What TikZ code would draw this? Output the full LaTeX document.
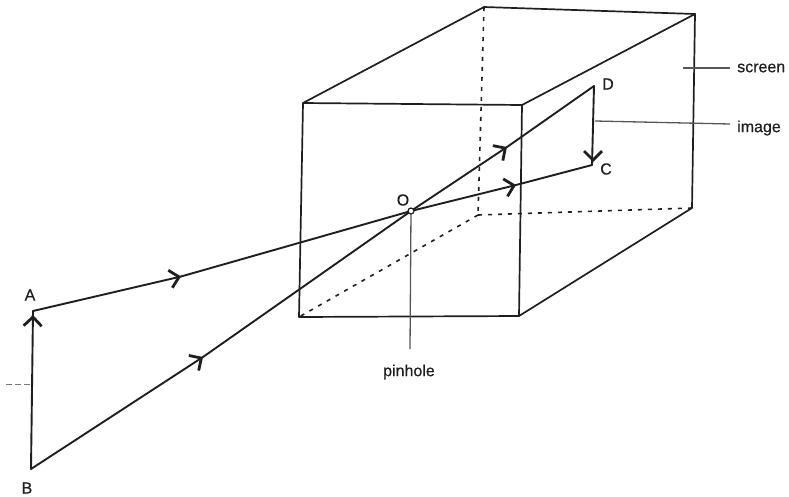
\documentclass[tikz,border=0pt]{standalone}
\usepackage{fontspec}
\setmainfont[FakeBold=0.5]{Liberation Sans}
\usetikzlibrary{arrows.meta,decorations.markings}
\definecolor{ink}{gray}{0.12}
\tikzset{
  x=1pt,y=-1pt,
  edge/.style={draw=ink,line width=1.7pt,line cap=round,line join=round},
  hidden/.style={draw=ink,line width=1.6pt,dash pattern=on 4pt off 6pt},
  thin leader/.style={draw=ink!75,line width=1.3pt},
  ray/.style={draw=ink,line width=1.9pt,line cap=round},
  chev/.style={postaction={decorate},decoration={markings,mark=at position #1 with {\arrow[ink,line width=2.8pt]{Straight Barb[length=9pt,width=18pt]}}}},
  lab/.style={font=\fontsize{16}{18}\selectfont,text=ink,inner sep=0pt}
}
\begin{document}
\begin{tikzpicture}
\useasboundingbox (0,0) rectangle (789,496);
% box corners
\coordinate (f1) at (303,103);
\coordinate (f2) at (522,105);
\coordinate (f3) at (519,316);
\coordinate (f4) at (299,317);
\coordinate (b1) at (484,7);
\coordinate (b2) at (695,14);
\coordinate (b3) at (692,208);
\coordinate (b4) at (478,215);
% optical points
\coordinate (A) at (33,311);
\coordinate (B) at (31,469);
\coordinate (O) at (411,211);
\coordinate (C) at (592,165);
\coordinate (D) at (594,86);
\coordinate (mA) at (181,276.5);
\coordinate (mB) at (203,357);
\coordinate (mC) at (516,185);
\coordinate (mD) at (507,147);
\coordinate (tipAs) at (32.6,328);
\coordinate (tipA) at (33,315);
\coordinate (tipCs) at (593,148);
\coordinate (tipC) at (593,162);
\coordinate (tickL) at (6,384);
\coordinate (tickR) at (31,384);
\coordinate (screenL) at (683,68);
\coordinate (screenR) at (730,68);
\coordinate (imageL) at (595,121);
\coordinate (imageR) at (730,124);
\coordinate (pinEnd) at (410,349);
% hidden edges
\draw[hidden] (b1) -- (b4);
\draw[hidden] (b4) -- (f4);
\draw[hidden] (b4) -- (b3);
% visible edges
\draw[edge] (f1) -- (f2) -- (f3) -- (f4) -- cycle;
\draw[edge] (f1) -- (b1) -- (b2) -- (f2);
\draw[edge] (b2) -- (b3) -- (f3);
% leaders
\draw[thin leader] (screenL) -- (screenR);
\draw[thin leader] (imageL) -- (imageR);
\draw[thin leader] (O) -- (pinEnd);
\draw[draw=ink!60,line width=1pt,dash pattern=on 6pt off 3pt] (tickL) -- (tickR);
% rays
\draw[ray,chev=1] (A) -- (mA);
\draw[ray] (mA) -- (O);
\draw[ray,chev=1] (O) -- (mC);
\draw[ray] (mC) -- (C);
\draw[ray,chev=1] (B) -- (mB);
\draw[ray] (mB) -- (O);
\draw[ray,chev=1] (O) -- (mD);
\draw[ray] (mD) -- (D);
\draw[ray,line join=round] (B) -- (A);
\draw[ray] (D) -- (C);
\path[chev=1] (tipAs) -- (tipA);
\path[chev=1] (tipCs) -- (tipC);
\node[circle,draw=ink,line width=1.2pt,fill=white,minimum size=6pt,inner sep=0pt] (pin) at (O) {};
% labels
\node[lab] (la) at (30,295) {A};
\node[lab] (lb) at (27,488) {B};
\node[lab] (lo) at (403,200) {O};
\node[lab] (lc) at (606,169) {C};
\node[lab] (ld) at (608,84) {D};
\node[lab,anchor=west] (ls) at (737,68) {screen};
\node[lab,anchor=west] (li) at (737,128) {image};
\node[lab] (lp) at (409,372) {pinhole};
\end{tikzpicture}
\end{document}
